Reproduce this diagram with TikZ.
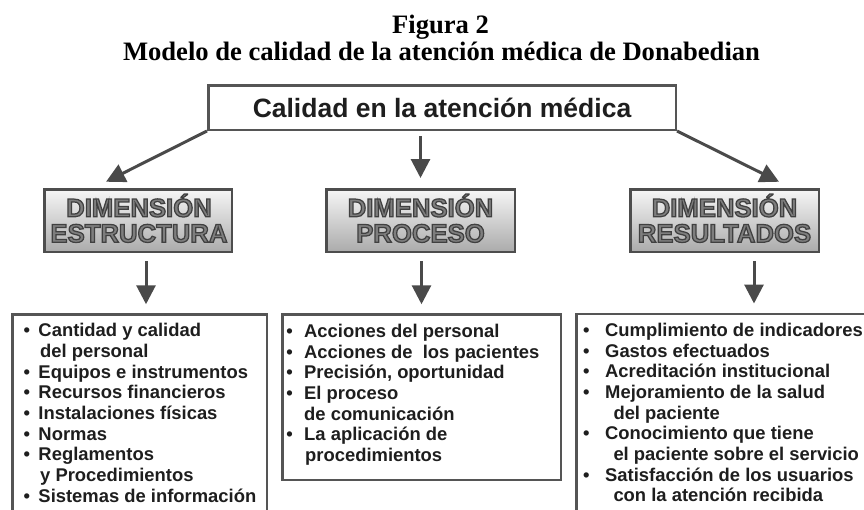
\documentclass[tikz,border=0pt]{standalone}
\usepackage{fontspec}
\setmainfont{Liberation Serif}
\newfontfamily\arial{Liberation Sans}
\usetikzlibrary{arrows.meta,calc}
\definecolor{boxline}{HTML}{555555}
\definecolor{dimline}{HTML}{4D4D4D}
\definecolor{arrowgray}{HTML}{4A4A4A}
\definecolor{txt}{HTML}{1E1E1E}
\definecolor{dimfill}{HTML}{7E7E7E}
\definecolor{dimtop}{HTML}{F6F6F6}
\definecolor{dimbot}{HTML}{ABABAB}
\newcommand\outlined[1]{\special{pdf:literal direct 2 Tr 1.25 w 0.25 0.25 0.25 RG}#1\special{pdf:literal direct 0 Tr}}
\newcommand\bu[1]{\makebox[#1pt][l]{\textbullet}}
\newcommand\ct[1]{\hspace*{#1pt}}
\begin{document}
\begin{tikzpicture}[x=1pt,y=-1pt,
  box/.style={draw=boxline, line width=2.5pt, fill=white, inner sep=0pt},
  dimbox/.style={draw=dimline, line width=2.5pt, top color=dimtop, bottom color=dimbot, inner sep=0pt, minimum height=62.5pt},
  arr/.style={draw=arrowgray, line width=3pt, -{Triangle[length=19pt,width=19pt]}},
  listtxt/.style={inner sep=0pt, text=txt, anchor=base west, font=\arial\bfseries\fontsize{18.4}{20.7}\selectfont},
  dimtxt/.style={inner sep=0pt, text=dimfill, anchor=base, font=\arial\bfseries\fontsize{25.7}{25}\selectfont},
  titletxt/.style={inner sep=0pt, text=black, anchor=base, font=\bfseries\fontsize{26.6}{30}\selectfont},
]
\useasboundingbox (0,0) rectangle (864,509);
\clip (0,0) rectangle (864,509);
\fill[white] (0,0) rectangle (864,509);

% titles
\node[titletxt] (fig) at (440.5,33) {Figura 2};
\node[titletxt] (sub) at (441.5,60) {Modelo de calidad de la atención médica de Donabedian};

% top box
\node[box, minimum width=467.5pt, minimum height=44.5pt, text=txt,
      font=\arial\bfseries\fontsize{26.5}{30}\selectfont] (top) at (442,107.5) {Calidad en la atención médica};

% dimension boxes
\node[dimbox, minimum width=187.5pt] (dE) at (138,220.5) {};
\node[dimbox, minimum width=188.5pt] (dP) at (420.5,220.5) {};
\node[dimbox, minimum width=188.5pt] (dR) at (724.5,220.5) {};
\node[dimtxt] (dEt) at (139,216.8) {\outlined{\begin{tabular}[t]{@{}c@{}}DIMENSIÓN\\ESTRUCTURA\end{tabular}}};
\node[dimtxt] (dPt) at (420.5,216.8) {\outlined{\begin{tabular}[t]{@{}c@{}}DIMENSIÓN\\PROCESO\end{tabular}}};
\node[dimtxt] (dRt) at (724.5,216.8) {\outlined{\begin{tabular}[t]{@{}c@{}}DIMENSIÓN\\RESULTADOS\end{tabular}}};

% bottom boxes
\node[box, anchor=north west, minimum width=254.5pt, minimum height=240pt] (bE) at (11.25,313.25) {};
\node[box, anchor=north west, minimum width=278.5pt, minimum height=165.5pt] (bP) at (281.25,313.25) {};
\node[box, anchor=north west, minimum width=320pt, minimum height=240pt] (bR) at (575.25,312.5) {};

\node[listtxt] (lE) at (23.5,336.7) {\begin{tabular}[t]{@{}l@{}}
\bu{14.8}Cantidad y calidad\\
\ct{16.5}del personal\\
\bu{14.8}Equipos e instrumentos\\
\bu{14.8}Recursos financieros\\
\bu{14.8}Instalaciones físicas\\
\bu{14.8}Normas\\
\bu{14.8}Reglamentos\\
\ct{16.5}y Procedimientos\\
\bu{14.8}Sistemas de información
\end{tabular}};

\node[listtxt] (lP) at (286.1,337.3) {\begin{tabular}[t]{@{}l@{}}
\bu{17.9}Acciones del personal\\
\bu{17.9}Acciones de\ \ los pacientes\\
\bu{17.9}Precisión, oportunidad\\
\bu{17.9}El proceso\\
\ct{17.9}de comunicación\\
\bu{17.9}La aplicación de\\
\ct{18.9}procedimientos
\end{tabular}};

\node[listtxt] (lR) at (582.8,336.3) {\begin{tabular}[t]{@{}l@{}}
\bu{22.2}Cumplimiento de indicadores\\
\bu{22.2}Gastos efectuados\\
\bu{22.2}Acreditación institucional\\
\bu{22.2}Mejoramiento de la salud\\
\ct{30.5}del paciente\\
\bu{22.2}Conocimiento que tiene\\
\ct{30.5}el paciente sobre el servicio\\
\bu{22.2}Satisfacción de los usuarios\\
\ct{30.5}con la atención recibida
\end{tabular}};

% connectors
\draw[arr] (top.south west) -- ($(dE.north)+(-32,-6.25)$);
\draw[arr, shorten <=5pt, shorten >=10pt] (top.south -| dP.north) -- (dP.north);
\draw[arr] (top.south east) -- ($(dR.north)+(54.5,-6.25)$);

\draw[arr, shorten <=8pt, shorten >=9pt] ([xshift=8pt]dE.south) -- ([xshift=8pt]dE.south |- bE.north);
\draw[arr, shorten <=8pt, shorten >=9pt] ([xshift=1pt]dP.south) -- ([xshift=1pt]dP.south |- bP.north);
\draw[arr, shorten <=8pt, shorten >=9pt] ([xshift=29.5pt]dR.south) -- ([xshift=29.5pt]dR.south |- bR.north);
\end{tikzpicture}
\end{document}
